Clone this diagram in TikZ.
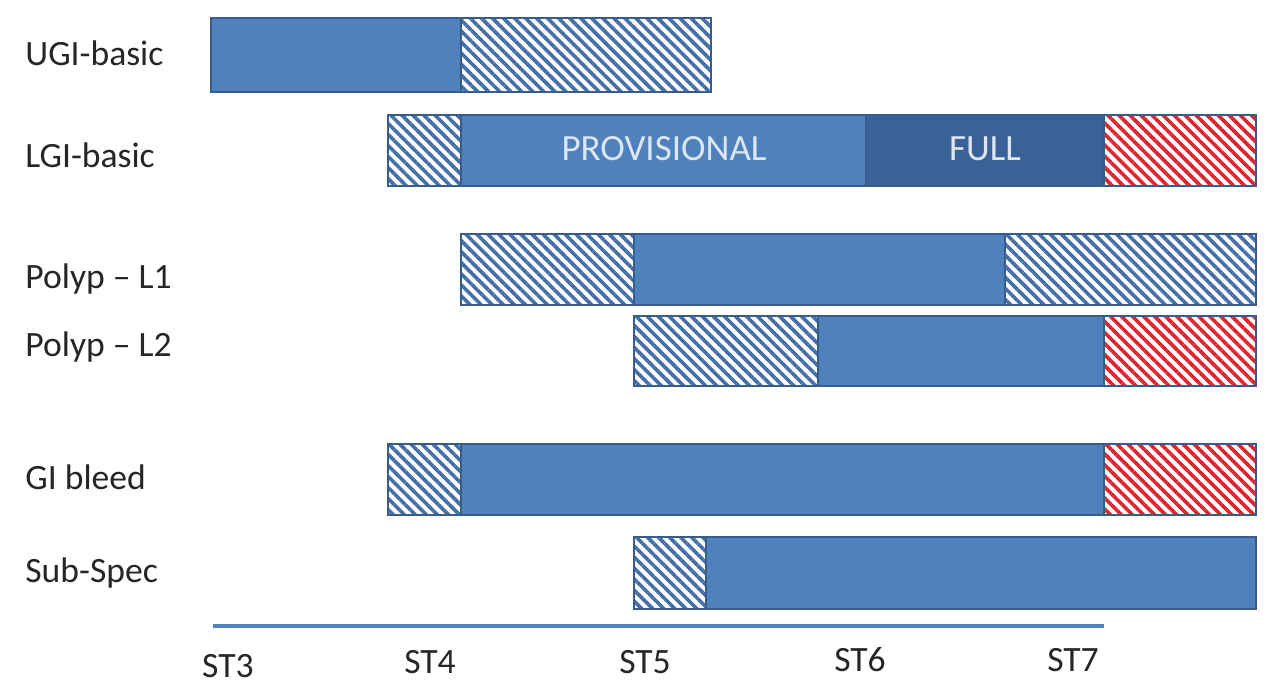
\documentclass[tikz,border=0pt]{standalone}
\usepackage{fontspec}
\setmainfont{Carlito}
\usetikzlibrary{patterns.meta}
\definecolor{barblue}{HTML}{4F81BD}
\definecolor{hatchblue}{HTML}{4570A6}
\definecolor{darkbar}{HTML}{3A6299}
\definecolor{edge}{HTML}{385D8A}
\definecolor{hatchred}{HTML}{DC2630}
\definecolor{labelgray}{HTML}{262626}
\definecolor{bartext}{HTML}{DCE6F2}
\tikzset{
  seg/.style={draw=edge, line width=1pt},
  solidseg/.style={seg, fill=barblue},
  fullseg/.style={seg, fill=darkbar},
  bluehatch/.style={seg, pattern={Lines[angle=-45,distance=3.9pt,line width=1.8pt]}, pattern color=hatchblue},
  redhatch/.style={seg, pattern={Lines[angle=-45,distance=3.9pt,line width=1.8pt]}, pattern color=hatchred},
  txt/.style={inner sep=0pt, font=\fontsize{17.8}{20}\selectfont},
  rowlabel/.style={txt, anchor=base west, text=labelgray},
  axlabel/.style={txt, anchor=base, text=labelgray},
  barlabel/.style={txt, anchor=base, text=bartext, font=\fontsize{18.5}{21}\selectfont},
}
\begin{document}
\begin{tikzpicture}[x=0.5pt,y=-0.5pt]
\fill[white] (0,0) rectangle (1280,684);
\useasboundingbox (0,0) rectangle (1280,684);
% UGI-basic
\draw[solidseg] (211,18) rectangle (461,92);
\draw[bluehatch] (461,18) rectangle (711,92);
% LGI-basic
\draw[bluehatch] (388,115) rectangle (461,186);
\draw[solidseg] (461,115) rectangle (866,186);
\draw[fullseg] (866,115) rectangle (1104,186);
\draw[redhatch] (1104,115) rectangle (1256,186);
% Polyp L1
\draw[bluehatch] (461,234) rectangle (634,305);
\draw[solidseg] (634,234) rectangle (1005,305);
\draw[bluehatch] (1005,234) rectangle (1256,305);
% Polyp L2
\draw[bluehatch] (634,316) rectangle (818,386);
\draw[solidseg] (818,316) rectangle (1104,386);
\draw[redhatch] (1104,316) rectangle (1256,386);
% GI bleed
\draw[bluehatch] (388,444) rectangle (461,515);
\draw[solidseg] (461,444) rectangle (1104,515);
\draw[redhatch] (1104,444) rectangle (1256,515);
% Sub-Spec
\draw[bluehatch] (634,537) rectangle (706,609);
\draw[solidseg] (706,537) rectangle (1256,609);
% axis
\coordinate (axL) at (213,626);
\coordinate (axR) at (1104,626);
\draw[barblue, line width=2pt] (axL) -- (axR);
% bar labels
\node[barlabel] (prov) at (664,161) {PROVISIONAL};
\node[barlabel] (full) at (985,161) {FULL};
% row labels
\node[rowlabel] (ugi) at (25,66) {UGI-basic};
\node[rowlabel] (lgi) at (25,168) {LGI-basic};
\node[rowlabel] (pl1) at (25,289) {Polyp – L1};
\node[rowlabel] (pl2) at (25,357) {Polyp – L2};
\node[rowlabel] (gib) at (25,489) {GI bleed};
\node[rowlabel] (sub) at (25,582) {Sub-Spec};
% axis labels
\node[axlabel] (st3) at (228,677) {ST3};
\node[axlabel] (st4) at (430,673) {ST4};
\node[axlabel] (st5) at (645,673) {ST5};
\node[axlabel] (st6) at (860,671) {ST6};
\node[axlabel] (st7) at (1073,671) {ST7};
\end{tikzpicture}
\end{document}
